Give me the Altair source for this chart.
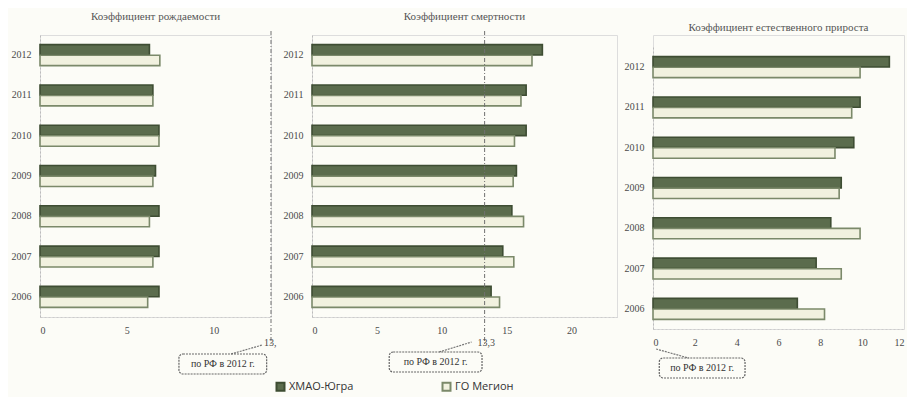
import altair as alt
import pandas as pd

# ---- data ----
years = ["2006", "2007", "2008", "2009", "2010", "2011", "2012"]
series = ["ХМАО-Югра", "ГО Мегион"]

birth_khmao = [6.85, 6.85, 6.85, 6.65, 6.85, 6.5, 6.3]
birth_megion = [6.2, 6.5, 6.3, 6.5, 6.85, 6.5, 6.9]

death_khmao = [13.8, 14.7, 15.4, 15.75, 16.5, 16.5, 17.75]
death_megion = [14.45, 15.55, 16.3, 15.5, 15.6, 16.1, 16.95]

growth_khmao = [6.9, 7.8, 8.5, 9.0, 9.6, 9.9, 11.3]
growth_megion = [8.2, 9.0, 9.9, 8.9, 8.7, 9.5, 9.9]

titles = ["Коэффициент рождаемости", "Коэффициент смертности",
          "Коэффициент естественного прироста"]
rf_values = [13.3, 13.3, 0]
rf_marks = ["13,", "13,3", ""]
rf_note = "по РФ в 2012 г."
ticks_1 = [0, 5, 10]
ticks_2 = [0, 5, 10, 15, 20]
ticks_3 = [0, 2, 4, 6, 8, 10, 12]

# ---- style ----
SERIF = "Liberation Serif"
SANS = "Open Sans"
TXT = "#4a4a4a"
DARK_FILL, DARK_STROKE = "#5b6c4d", "#3e4d33"
LIGHT_FILL, LIGHT_STROKE = "#f1f1df", "#7b896a"
H = 282


def panel(title, khmao, megion, xmax, width, ticks, ref, ref_mark,
          box, box_dy, leader, leader_dy, draw_ref=True, shift=0, title_dy=0):
    df = pd.DataFrame({
        "year": years * 2,
        "series": [series[0]] * len(years) + [series[1]] * len(years),
        "value": khmao + megion,
    })
    h = H + shift
    xscale = alt.Scale(domain=[0, xmax], nice=False, zero=True)
    yscale = alt.Scale(paddingInner=0.48, paddingOuter=0.24, range=[shift, h])
    bars = alt.Chart(df).mark_bar(strokeWidth=1.6).encode(
        y=alt.Y("year:N", sort="descending", title=None, scale=yscale,
                axis=alt.Axis(labelFont=SERIF, labelFontSize=10, labelColor=TXT,
                              ticks=False, labelPadding=9, domainColor="#bbbbbb",
                              domainDash=[2, 2], domainWidth=1)),
        yOffset=alt.YOffset("series:N", sort=series,
                            scale=alt.Scale(paddingInner=0.02)),
        x=alt.X("value:Q", title=None, scale=xscale,
                axis=alt.Axis(values=ticks, labelFont=SERIF, labelFontSize=10,
                              labelColor=TXT, ticks=False, grid=False,
                              labelPadding=8, domainColor="#cccccc",
                              domainDash=[2, 2], domainWidth=1)),
        fill=alt.Fill("series:N", sort=series,
                      scale=alt.Scale(domain=series, range=[DARK_FILL, LIGHT_FILL]),
                      legend=alt.Legend(title=None, orient="none", direction="horizontal",
                                        legendX=235, legendY=H + 64,
                                        symbolType="square", symbolSize=64,
                                        symbolStrokeColor="#6d7a60", symbolStrokeWidth=2,
                                        labelFont=SANS, labelFontSize=11, labelColor="#333333",
                                        columnPadding=84, labelOffset=3)),
        stroke=alt.Stroke("series:N", sort=series,
                          scale=alt.Scale(domain=series, range=[DARK_STROKE, LIGHT_STROKE]),
                          legend=None),
    )
    layers = [bars]
    if draw_ref:
        ref_df = pd.DataFrame({"v": [ref], "t": [ref_mark]})
        layers.append(alt.Chart(ref_df).mark_rule(strokeDash=[4, 2, 1, 2], color="#707070",
                                                  strokeWidth=1).encode(
            x="v:Q", y=alt.value(-4), y2=alt.value(h + 28)))
        layers.append(alt.Chart(ref_df).mark_text(font=SERIF, fontSize=10, color=TXT,
                                                  align="left", dx=-7).encode(
            x="v:Q", y=alt.value(h + 26), text="t:N"))
    # leader line
    layers.append(alt.Chart(pd.DataFrame({"a": [0]})).mark_rule(
        strokeDash=[2, 1], color="#777777", strokeWidth=1.2).encode(
        x=alt.datum(leader[0]), x2=alt.datum(leader[1]),
        y=alt.value(h + leader_dy[0]), y2=alt.value(h + leader_dy[1])))
    # note box
    layers.append(alt.Chart(pd.DataFrame({"a": [0]})).mark_rect(
        fillOpacity=0, stroke="#666666", strokeDash=[2, 1], strokeWidth=1.2,
        cornerRadius=4).encode(
        x=alt.datum(box[0]), x2=alt.datum(box[1]),
        y=alt.value(h + box_dy), y2=alt.value(h + box_dy + 20)))
    layers.append(alt.Chart(pd.DataFrame({"t": [rf_note]})).mark_text(
        font=SERIF, fontSize=10, color="#333333").encode(
        x=alt.datum((box[0] + box[1]) / 2), y=alt.value(h + box_dy + 10), text="t:N"))

    return alt.layer(*layers).properties(
        width=width, height=h,
        title=alt.TitleParams(title, font=SERIF, fontSize=11, fontWeight="normal",
                              color="#555555", offset=9, anchor="middle", dy=title_dy),
    )


p1 = panel(titles[0], birth_khmao, birth_megion, 13.3, 231, ticks_1, rf_values[0], rf_marks[0],
           (8.0, 13.05), 37, (11.0, 12.8), (37, 28))
p2 = panel(titles[1], death_khmao, death_megion, 23.5, 305, ticks_2, rf_values[1], rf_marks[1],
           (5.95, 13.1), 35, (9.8, 12.3), (35, 25))
p3 = panel(titles[2], growth_khmao, growth_megion, 12, 251, ticks_3, rf_values[2], rf_marks[2],
           (0.3, 4.4), 29, (0.15, 1.7), (20, 29), draw_ref=False, shift=12, title_dy=7)

chart = alt.hconcat(p1, p2, p3, spacing=5).resolve_scale(
    x="independent", y="independent", yOffset="independent"
).configure_view(stroke=None).configure(
    background="#fcfcf7", padding={"left": 2, "top": 2, "right": 2, "bottom": 2}
)

chart.save("out.html", embed_options={"renderer": "svg", "actions": False})
